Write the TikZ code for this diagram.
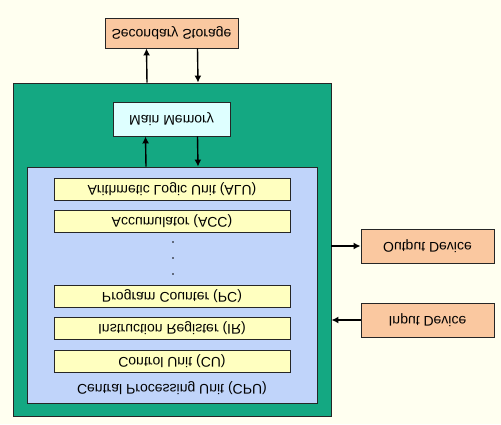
\documentclass[tikz,border=0pt]{standalone}
\usepackage{xcolor}
\usepackage{fontspec}
\setmainfont{Liberation Sans}
\usetikzlibrary{arrows.meta}
\definecolor{paper}{RGB}{255, 255, 240}
\definecolor{board}{RGB}{20, 168, 130}
\definecolor{chip}{RGB}{192, 212, 250}
\definecolor{regfill}{RGB}{255, 255, 192}
\definecolor{peach}{RGB}{250, 200, 160}
\definecolor{memfill}{RGB}{222, 255, 255}
\newcommand{\flip}[1]{\scalebox{1}[-1]{#1}}

\begin{document}
\begin{tikzpicture}[x=1pt, y=-1pt,
    box/.style={draw=black!85, line width=0.9pt, inner sep=0pt,
        font=\fontsize{14}{16}\selectfont},
    device/.style={box, fill=peach, minimum width=133pt, minimum height=34pt},
    reg/.style={box, fill=regfill, minimum width=236pt, minimum height=22pt},
    flow/.style={-{Latex[length=7pt, width=7pt]}, line width=1.4pt}]
    % Page
    \useasboundingbox (0,0) rectangle (501,424);
    \fill[paper] (0,0) rectangle (501,424);

    % Computer with memory and processor
    \node[box, fill=board, minimum width=318pt, minimum height=333pt] (system) at (172,249.5) {};
    \node[box, fill=memfill, minimum width=117pt, minimum height=34pt] (memory) at (171.5,119) {\flip{Main Memory}};
    \node[box, fill=chip, minimum width=290pt, minimum height=236pt] (cpu) at (172,285) {};
    \node[font=\fontsize{14}{16}\selectfont] (cpulabel) at (172,388) {\flip{Central Processing Unit (CPU)}};

    % Registers
    \node[reg] (alu) at (172,189.5) {\flip{Arithmetic Logic Unit (ALU)}};
    \node[reg] (acc) at (172,221.5) {\flip{Accumulator (ACC)}};
    \node[reg] (pc) at (172,296) {\flip{Program Counter (PC)}};
    \node[reg] (ir) at (172,328.5) {\flip{Instruction Register (IR)}};
    \node[reg] (cu) at (172,361) {\flip{Control Unit (CU)}};
    \foreach \y in {242,258,274} {
        \fill (173,\y) circle (0.8);
    }

    % Peripherals
    \node[device, minimum height=30pt] (storage) at (171.5,33) {\flip{Secondary Storage}};
    \node[device] (output) at (427.5,246) {\flip{Output Device}};
    \node[device] (input) at (427.5,320) {\flip{Input Device}};

    % Data paths
    \draw[flow] ([xshift=-25pt]system.north) -- ([xshift=-25pt]storage.south);
    \draw[flow] ([xshift=26pt]storage.south) -- ([xshift=26pt]system.north);
    \draw[flow] ([xshift=-26pt]cpu.north) -- ([xshift=-26pt]memory.south);
    \draw[flow] ([xshift=26pt]memory.south) -- ([xshift=26pt]cpu.north);
    \draw[flow] (system.east |- output.west) -- (output.west);
    \draw[flow] (input.west) -- (input.west -| system.east);
\end{tikzpicture}
\end{document}
